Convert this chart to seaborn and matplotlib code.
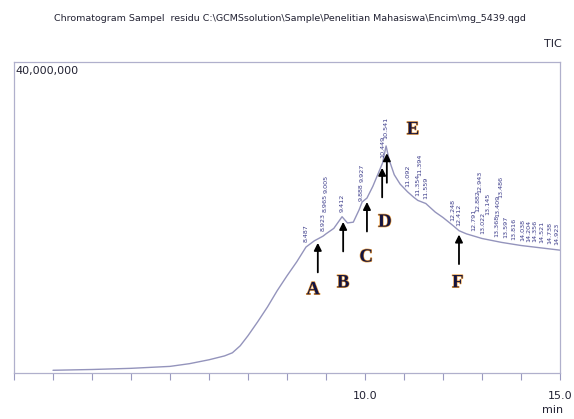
import numpy as np
import pandas as pd
import seaborn as sns
import matplotlib.pyplot as plt
import matplotlib.patheffects as pe

# Retention time (min) and TIC intensity (millions of counts)
rt_min = [2.0, 3.0, 4.0, 5.0, 5.5, 6.0, 6.4, 6.6, 6.8, 7.0, 7.25, 7.5, 7.75, 8.0,
          8.25, 8.487, 8.7, 8.923, 9.0, 9.2, 9.412, 9.55, 9.7, 9.85, 9.927, 10.05,
          10.2, 10.35, 10.449, 10.541, 10.62, 10.75, 10.9, 11.092, 11.25, 11.354,
          11.559, 11.8, 12.0, 12.248, 12.412, 12.6, 13.0, 13.5, 14.0, 14.5, 15.0]
tic_m = [0.35, 0.45, 0.6, 0.85, 1.2, 1.7, 2.2, 2.6, 3.5, 4.8, 6.6, 8.5, 10.6, 12.5,
         14.3, 16.2, 17.0, 17.6, 17.9, 18.6, 20.1, 19.3, 19.4, 21.0, 22.0, 22.5,
         24.0, 25.8, 27.0, 29.2, 27.4, 25.5, 24.3, 23.3, 22.6, 22.2,
         21.8, 20.7, 20.0, 19.0, 18.3, 17.9, 17.3, 16.8, 16.4, 16.1, 15.8]

# Peak retention time labels printed above the trace
peak_labels = ['8.487', '8.923', '8.965', '9.005', '9.412', '9.888', '9.927',
               '10.449', '10.541', '11.092', '11.354', '11.394', '11.559',
               '12.248', '12.412', '12.791', '12.882', '12.943', '13.022',
               '13.145', '13.368', '13.409', '13.486', '13.597', '13.816',
               '14.038', '14.204', '14.356', '14.521', '14.738', '14.923']

# Marked compounds A-F
mark_letters = ['A', 'B', 'C', 'D', 'E', 'F']
mark_rt = [8.79, 9.44, 10.05, 10.44, 10.56, 12.41]

df = pd.DataFrame({'rt': rt_min, 'tic': np.array(tic_m) * 1e6})

sns.set_style('white')
plt.rcParams['font.family'] = ['Liberation Sans Narrow', 'DejaVu Sans']

fig = plt.figure(figsize=(5.74, 4.19), dpi=100)
ax = fig.add_axes([0.0244, 0.1098, 0.9512, 0.7422])

line_col = '#9494bc'
sns.lineplot(data=df, x='rt', y='tic', ax=ax, color=line_col, lw=1.0)

ax.set_xlim(1.0, 15.0)
ax.set_ylim(0, 40e6)
ax.set_xlabel('')
ax.set_ylabel('')
ax.set_yticks([])
ax.set_xticks(np.arange(1, 16))
ax.set_xticklabels(['10.0' if t == 10 else '15.0' if t == 15 else '' for t in range(1, 16)])
ax.tick_params(axis='x', direction='out', length=5, width=0.8, color='#9a9ac0',
               pad=8, labelsize=8, labelcolor='#222233', bottom=True)
for s in ax.spines.values():
    s.set_color('#b0b0cc')
    s.set_linewidth(0.9)

# peak labels, cycled over three rows when crowded
lab_h = 2.5e6
prev_rt, level, row0 = -99, 0, 0
for lab in peak_labels:
    t = float(lab)
    curve = np.interp(t, rt_min, tic_m) * 1e6 + 0.6e6
    if t - prev_rt < 0.13 and level < 2:
        level += 1
    else:
        level = 0
        row0 = curve
    base = max(curve, row0 + level * lab_h)
    ax.text(t, base, lab, rotation=90, ha='center', va='bottom', fontsize=4.6,
            color='#3c3c8a', family='DejaVu Sans')
    prev_rt = t

# arrows and letters
letter_pos = [(8.67, 10.7e6), (9.44, 11.6e6), (10.03, 14.9e6),
              (10.51, 19.4e6), (11.23, 31.3e6), (12.38, 11.6e6)]
for letter, t, (lx, ly) in zip(mark_letters, mark_rt, letter_pos):
    tip = np.interp(t, rt_min, tic_m) * 1e6 - 0.5e6
    ax.annotate('', xy=(t, tip), xytext=(t, tip - 3.8e6),
                arrowprops=dict(arrowstyle='-|>', color='black', lw=1.3,
                                mutation_scale=11, shrinkA=0, shrinkB=0))
    ax.text(lx, ly, letter, ha='center', va='center', fontsize=13.5,
            fontweight='bold', family='Liberation Serif', color='#141440',
            path_effects=[pe.withStroke(linewidth=0.9, foreground='#e89a3a')])

ax.text(0.003, 0.987, '40,000,000', transform=ax.transAxes, ha='left', va='top',
        fontsize=8, color='#222233')

fig.text(0.505, 0.957, 'Chromatogram Sampel  residu C:\\GCMSsolution\\Sample\\Penelitian Mahasiswa\\Encim\\mg_5439.qgd',
         ha='center', va='center', fontsize=6.8, color='#222233')
fig.text(0.963, 0.895, 'TIC', ha='center', va='center', fontsize=8, color='#222233')
fig.text(0.963, 0.021, 'min', ha='center', va='center', fontsize=8, color='#222233')

fig.savefig('out.png', dpi=100, facecolor='white')
